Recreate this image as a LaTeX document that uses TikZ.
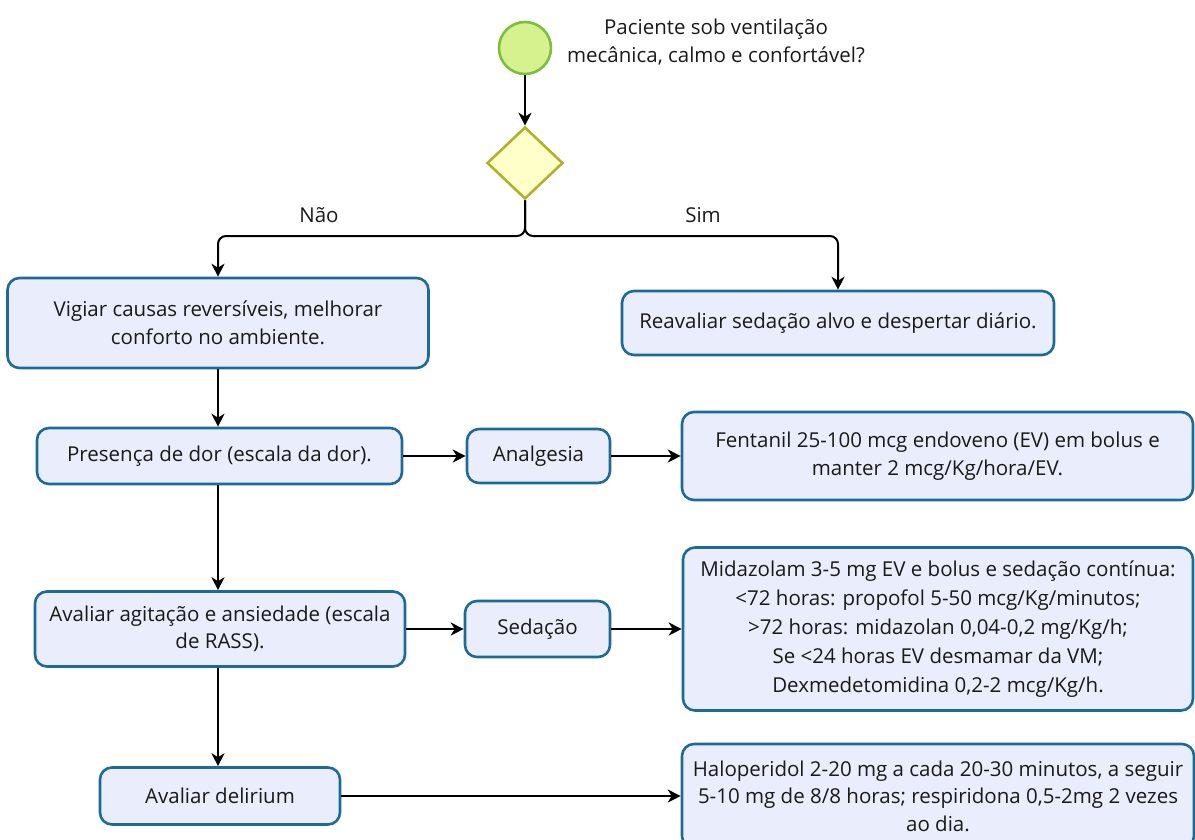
\documentclass[tikz,border=0pt]{standalone}
\usepackage{fontspec}
\setmainfont{Open Sans}
\usetikzlibrary{shapes.geometric,arrows.meta}
\definecolor{boxf}{HTML}{E9EDFC}
\definecolor{boxb}{HTML}{1D6A99}
\definecolor{circf}{HTML}{D6F28E}
\definecolor{circb}{HTML}{7CBF3C}
\definecolor{diaf}{HTML}{FFFFC9}
\definecolor{diab}{HTML}{B2B22A}
\definecolor{txt}{HTML}{1A1A1A}
\tikzset{
  box/.style={draw=boxb, fill=boxf, line width=2.6pt, rounded corners=12pt, align=center, inner sep=0pt, text=txt, font=\fontsize{20.5}{27.5}\selectfont},
  arr/.style={line width=2pt, -{Stealth[length=13pt,width=13pt,inset=4pt]}},
  lbl/.style={text=txt, align=center, font=\fontsize{20.5}{28}\selectfont},
}
\begin{document}
\begin{tikzpicture}[x=1pt,y=-1pt]
\useasboundingbox (0,0) rectangle (1195,839);
\node[circle, draw=circb, fill=circf, line width=2.6pt, minimum size=52pt, inner sep=0pt] (start) at (525,48) {};
\node[lbl] (q) at (716,42) {Paciente sob ventilação\\mecânica, calmo e confortável?};
\node[diamond, draw=diab, fill=diaf, line width=2.6pt, minimum width=76pt, minimum height=72pt, inner sep=0pt] (dia) at (525,163) {};
\coordinate (j) at (525,236);
\node[lbl] (nao) at (319,215) {Não};
\node[lbl] (sim) at (703,215) {Sim};

\node[box, minimum width=421pt, minimum height=90pt] (vig) at (218,323) {Vigiar causas reversíveis, melhorar\\conforto no ambiente.};
\node[box, minimum width=432pt, minimum height=64pt] (reav) at (838,323) {Reavaliar sedação alvo e despertar diário.};
\node[box, minimum width=365pt, minimum height=56pt] (pres) at (219.5,456) {Presença de dor (escala da dor).};
\node[box, minimum width=143pt, minimum height=54pt] (anal) at (538.5,456) {Analgesia};
\node[box, minimum width=511pt, minimum height=88pt] (fent) at (937.5,456) {Fentanil 25-100 mcg endoveno (EV) em bolus e\\manter 2 mcg/Kg/hora/EV.};
\node[box, minimum width=370pt, minimum height=75pt] (aval) at (220,629) {Avaliar agitação e ansiedade (escala\\de RASS).};
\node[box, minimum width=145pt, minimum height=56pt] (sed) at (537.5,629) {Sedação};
\node[box, minimum width=510pt, minimum height=163pt, font=\fontsize{20.5}{29}\selectfont] (mid) at (938,629) {Midazolam 3-5 mg EV e bolus e sedação contínua:\\<72 horas: propofol 5-50 mcg/Kg/minutos;\\>72 horas: midazolan 0,04-0,2 mg/Kg/h;\\Se <24 horas EV desmamar da VM;\\Dexmedetomidina 0,2-2 mcg/Kg/h.};
\node[box, minimum width=240pt, minimum height=57pt] (del) at (220,796) {Avaliar delirium};
\node[box, minimum width=512pt, minimum height=104pt] (halo) at (938,796) {Haloperidol 2-20 mg a cada 20-30 minutos, a seguir\\5-10 mg de 8/8 horas; respiridona 0,5-2mg 2 vezes\\ao dia.};

\draw[arr] (start) -- (dia);
\draw[arr, rounded corners=8pt] (dia.south) -- (j) -| (vig.north);
\draw[arr, rounded corners=8pt] (dia.south) -- (j) -| (reav.north);
\draw[arr] (vig.south) -- (vig.south |- pres.north);
\draw[arr] (pres.east) -- (pres.east -| anal.west);
\draw[arr] (anal.east) -- (anal.east -| fent.west);
\draw[arr] (vig.south |- pres.south) -- (vig.south |- aval.north);
\draw[arr] (aval.east) -- (aval.east -| sed.west);
\draw[arr] (sed.east) -- (sed.east -| mid.west);
\draw[arr] (vig.south |- aval.south) -- (vig.south |- del.north);
\draw[arr] (del.east) -- (del.east -| halo.west);
\end{tikzpicture}
\end{document}
